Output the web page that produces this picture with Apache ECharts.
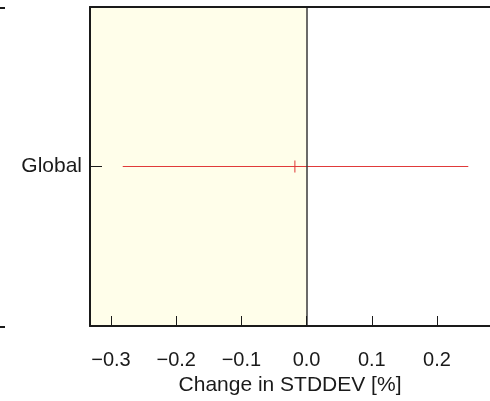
<!DOCTYPE html>
<html><head><meta charset="utf-8">
<script src="https://cdn.jsdelivr.net/npm/echarts@6/dist/echarts.min.js"></script>
<style>html,body{margin:0;padding:0;background:#fff}#c{width:490px;height:401px}</style>
</head><body><div id="c"></div>
<script>
const regions = ['Global'];
const lowerVals = [-0.282];
const upperVals = [0.248];
const centerVals = [-0.018];
const xTickVals = [-0.3, -0.2, -0.1, 0, 0.1, 0.2];
const xMin = -0.3322, xMax = 0.2813;
const axisTitle = 'Change in STDDEV [%]';

const fmt = v => (v < -1e-9 ? '\u2212' : '') + Math.abs(v).toFixed(1);
const font = 'Liberation Sans';

const lineData = [];
regions.forEach((r, i) => { lineData.push([lowerVals[i], r], [upperVals[i], r], null); });
const centerData = regions.map((r, i) => [centerVals[i], r]);

const chart = echarts.init(document.getElementById('c'));
chart.setOption({
  animation: false,
  grid: { left: 90, right: 0, top: 7, bottom: 74 },
  xAxis: [{
    type: 'value', min: xMin, max: xMax, position: 'bottom', z: 10,
    axisLine: { show: true, onZero: false, lineStyle: { color: '#1a1a1a', width: 2 } },
    axisTick: { show: true, inside: true, length: 10, customValues: xTickVals, lineStyle: { color: '#1a1a1a', width: 1 } },
    axisLabel: { customValues: xTickVals, formatter: fmt, fontFamily: font, fontSize: 20, color: '#1a1a1a', margin: 24 },
    splitLine: { show: false },
    name: axisTitle, nameLocation: 'middle', nameGap: 49,
    nameTextStyle: { fontFamily: font, fontSize: 21, color: '#1a1a1a' }
  }, {
    type: 'value', min: xMin, max: xMax, position: 'top', z: 10,
    axisLine: { show: true, onZero: false, lineStyle: { color: '#1a1a1a', width: 2 } },
    axisTick: { show: false }, axisLabel: { show: false }, splitLine: { show: false }
  }],
  yAxis: {
    type: 'category', data: regions, boundaryGap: true, z: 10, position: 'left',
    axisLine: { show: true, onZero: false, lineStyle: { color: '#1a1a1a', width: 2 } },
    axisTick: { show: true, inside: true, length: 12, alignWithLabel: true, lineStyle: { color: '#1a1a1a', width: 1 } },
    axisLabel: { fontFamily: font, fontSize: 21, color: '#1a1a1a', margin: 8 },
    splitLine: { show: false }
  },
  series: [{
    type: 'line', data: lineData, symbol: 'none', connectNulls: false,
    lineStyle: { color: '#e03a3a', width: 1 }, z: 3,
    markArea: { silent: true, itemStyle: { color: '#fffeea' }, data: [[{ xAxis: xMin }, { xAxis: 0 }]] },
    markLine: { silent: true, symbol: 'none', label: { show: false },
      lineStyle: { color: '#3a3a3a', width: 1.5, type: 'solid' }, data: [{ xAxis: 0 }] }
  }, {
    type: 'scatter', data: centerData, symbol: 'rect', symbolSize: [1.3, 12],
    itemStyle: { color: '#e03a3a' }, z: 4
  }],
  graphic: [
    { type: 'line', shape: { x1: 0, y1: 8, x2: 5, y2: 8 }, style: { stroke: '#1a1a1a', lineWidth: 2 } },
    { type: 'line', shape: { x1: 0, y1: 327, x2: 5, y2: 327 }, style: { stroke: '#1a1a1a', lineWidth: 2 } }
  ]
});
</script></body></html>
